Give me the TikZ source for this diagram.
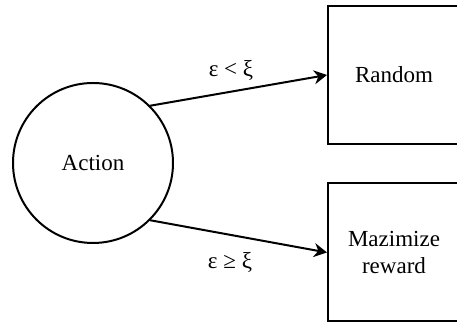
\documentclass[tikz,border=0pt]{standalone}
\usepackage{fontspec}
\setmainfont{Liberation Serif}
\usetikzlibrary{positioning,arrows.meta}

\begin{document}
\begin{tikzpicture}[x=0.5pt,y=-0.5pt,font=\fontsize{11.5}{13.5}\selectfont,line width=1pt,
  state/.style={circle,draw,inner sep=0pt,minimum size=80pt},
  choice/.style={rectangle,draw,inner sep=0pt,minimum width=66pt,minimum height=69pt,align=center},
  arr/.style={-{Stealth[length=6.5pt,width=7pt]}}]
  \useasboundingbox (0,0) rectangle (457,324);
  \node[state] (act) at (93,163) {Action};
  \node[choice] (rnd) at (394,75) {Random};
  \node[choice] (mzr) at (394,252.5) {Mazimize\\reward};
  \node (lo) at (231,71) {ε < ξ};
  \node (hi) at (230,263) {ε ≥ ξ};
  \draw[arr] (act.45) -- (rnd.west); \draw[arr] (act.-45) -- (mzr.west);
\end{tikzpicture}
\end{document}
